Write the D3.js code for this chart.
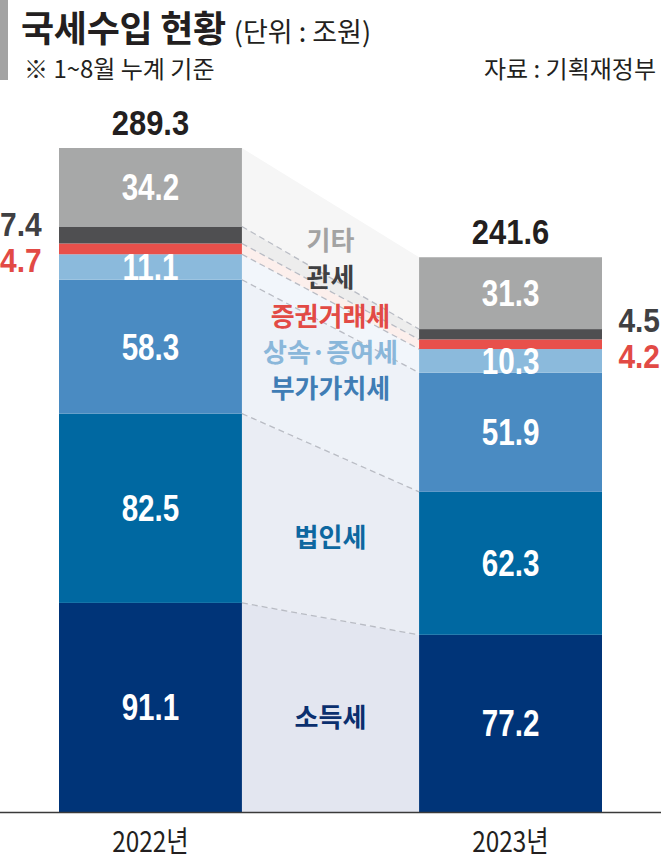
<!DOCTYPE html>
<html>
<head>
<meta charset="utf-8">
<script src="https://cdn.jsdelivr.net/npm/d3@7"></script>
<style>
	body { margin: 0; background: #fff; }
	svg { display: block; }
	.kr { font-family: 'Noto Sans CJK KR', sans-serif; }
	.num { font-family: 'Liberation Sans', Arial, sans-serif; font-weight: bold; }
</style>
</head>
<body>
<script>

const width = 661,
	height = 862,

	years = [ '2022년', '2023년' ],
	taxes = [ '소득세', '법인세', '부가가치세', '상속·증여세', '증권거래세', '관세', '기타' ], // van onder naar boven
	values2022 = [ 91.1, 82.5, 58.3, 11.1, 4.7, 7.4, 34.2 ],
	values2023 = [ 77.2, 62.3, 51.9, 10.3, 4.2, 4.5, 31.3 ],
	totals = [ 289.3, 241.6 ],

	barColors = [ '#003478', '#0068a1', '#4a8bc2', '#8bbadc', '#e8504b', '#4f4f51', '#a7a8a8' ],
	bandColors = [ '#e3e6f0', '#eaedf4', '#eef2f8', '#f2f6fb', '#fcefec', '#ededed', '#f6f6f6' ],
	labelColors = [ '#0a2f6e', '#0d67a0', '#3f7db5', '#8ab7da', '#e24a45', '#404042', '#a3a3a3' ]

const svg = d3.select( 'body' )
	.append( 'svg' )
	.attr( 'width', width )
	.attr( 'height', height )

const x = d3.scaleBand()
		.domain( years )
		.range( [ 59, 602 ] )
		.paddingInner( 0.492 ),

	y = d3.scaleLinear()
		.domain( [ 0, totals[ 0 ] ] )
		.range( [ 812, 148 ] )

// stapel de data
const series = [ values2022, values2023 ].map( vals => {
	let sum = 0
	return vals.map( ( v, i ) => {
		const d = { i, key: taxes[ i ], value: v, y0: sum, y1: sum + v }
		sum += v
		return d
	})
})

// tekst smaller maken (condensed)
function narrow( sel, sx ) {
	sel.attr( 'transform', function() {
		const t = d3.select( this )
		return `translate( ${ t.attr( 'data-x' ) }, ${ t.attr( 'data-y' ) } ) scale( ${ sx }, 1 )`
	})
}

// titel blok
svg.append( 'rect' )
	.attr( 'x', 0 )
	.attr( 'y', 0 )
	.attr( 'width', 8 )
	.attr( 'height', 80 )
	.attr( 'fill', '#a3a3a3' )

const title = svg.append( 'text' )
	.attr( 'class', 'kr' )
	.attr( 'x', 21 )
	.attr( 'y', 42 )
	.attr( 'fill', '#231f20' )

title.append( 'tspan' )
	.attr( 'font-size', 36 )
	.attr( 'font-weight', 'bold' )
	.attr( 'letter-spacing', -0.3 )
	.text( '국세수입 현황' )

title.append( 'tspan' )
	.attr( 'font-size', 27 )
	.attr( 'dx', 8 )
	.text( '(단위 : 조원)' )

svg.append( 'text' )
	.attr( 'class', 'kr' )
	.attr( 'x', 24 )
	.attr( 'y', 78 )
	.attr( 'font-size', 24 )
	.attr( 'fill', '#231f20' )
	.text( '※ 1~8월 누계 기준' )

svg.append( 'text' )
	.attr( 'class', 'kr' )
	.attr( 'x', 656 )
	.attr( 'y', 78 )
	.attr( 'font-size', 24 )
	.attr( 'text-anchor', 'end' )
	.attr( 'fill', '#231f20' )
	.text( '자료 : 기획재정부' )

// verbindings vlakken tussen de twee staven
const xl = x( years[ 0 ] ) + x.bandwidth(),
	xr = x( years[ 1 ] )

svg.append( 'g' )
	.selectAll( 'path' )
	.data( taxes )
	.enter()
	.append( 'path' )
	.attr( 'fill', ( d, i ) => bandColors[ i ] )
	.attr( 'd', ( d, i ) => {
		const a = series[ 0 ][ i ], b = series[ 1 ][ i ]
		return `M${ xl },${ y( a.y0 ) }L${ xr },${ y( b.y0 ) }L${ xr },${ y( b.y1 ) }L${ xl },${ y( a.y1 ) }Z`
	})

svg.append( 'g' )
	.selectAll( 'line' )
	.data( taxes.slice( 1 ) )
	.enter()
	.append( 'line' )
	.attr( 'x1', xl )
	.attr( 'x2', xr )
	.attr( 'y1', ( d, i ) => y( series[ 0 ][ i + 1 ].y0 ) )
	.attr( 'y2', ( d, i ) => y( series[ 1 ][ i + 1 ].y0 ) )
	.attr( 'stroke', '#b9bcc4' )
	.attr( 'stroke-width', 1.3 )
	.attr( 'stroke-dasharray', '6,4' )

// staven
const bars = svg.selectAll( '.bar' )
	.data( series )
	.enter()
	.append( 'g' )
	.attr( 'class', 'bar' )
	.attr( 'transform', ( d, i ) => `translate( ${ x( years[ i ] ) }, 0 )` )

bars.selectAll( 'rect' )
	.data( d => d )
	.enter()
	.append( 'rect' )
	.attr( 'x', 0 )
	.attr( 'width', x.bandwidth() )
	.attr( 'y', d => y( d.y1 ) )
	.attr( 'height', d => y( d.y0 ) - y( d.y1 ) )
	.attr( 'fill', d => barColors[ d.i ] )

// waardes in de staven (niet voor de dunne stukken)
bars.selectAll( '.val' )
	.data( d => d.filter( e => e.key !== '관세' && e.key !== '증권거래세' ) )
	.enter()
	.append( 'text' )
	.attr( 'class', 'num val' )
	.attr( 'data-x', x.bandwidth() / 2 )
	.attr( 'data-y', d => ( y( d.y0 ) + y( d.y1 ) ) / 2 + 13 )
	.attr( 'font-size', 37 )
	.attr( 'text-anchor', 'middle' )
	.attr( 'fill', '#fff' )
	.text( d => d.value.toFixed( 1 ) )
	.call( narrow, 0.8 )

// totalen
svg.selectAll( '.total' )
	.data( totals )
	.enter()
	.append( 'text' )
	.attr( 'class', 'num total' )
	.attr( 'data-x', ( d, i ) => x( years[ i ] ) + x.bandwidth() / 2 )
	.attr( 'data-y', d => y( d ) - 13 )
	.attr( 'font-size', 36 )
	.attr( 'text-anchor', 'middle' )
	.attr( 'fill', '#231f20' )
	.text( d => d.toFixed( 1 ) )
	.call( narrow, 0.86 )

// kleine waardes buiten de staven (관세, 증권거래세)
const outside = [
	{ v: series[ 0 ][ 5 ], x: 0, anchor: 'start', dy: 10, color: labelColors[ 5 ] },
	{ v: series[ 0 ][ 4 ], x: 0, anchor: 'start', dy: 29, color: labelColors[ 4 ] },
	{ v: series[ 1 ][ 5 ], x: 660, anchor: 'end', dy: 3, color: labelColors[ 5 ] },
	{ v: series[ 1 ][ 4 ], x: 660, anchor: 'end', dy: 29, color: labelColors[ 4 ] }
]

svg.selectAll( '.outside' )
	.data( outside )
	.enter()
	.append( 'text' )
	.attr( 'class', 'num outside' )
	.attr( 'data-x', d => d.x )
	.attr( 'data-y', d => y( d.v.y1 ) + d.dy )
	.attr( 'font-size', 34 )
	.attr( 'text-anchor', d => d.anchor )
	.attr( 'fill', d => d.color )
	.text( d => d.v.value.toFixed( 1 ) )
	.call( narrow, 0.88 )

// namen in het midden
const nameY = [ 727, 547, 398, 362, 326, 287, 250 ]

svg.selectAll( '.name' )
	.data( taxes )
	.enter()
	.append( 'text' )
	.attr( 'class', 'kr name' )
	.attr( 'x', ( xl + xr ) / 2 )
	.attr( 'y', ( d, i ) => nameY[ i ] )
	.attr( 'font-size', 26 )
	.attr( 'font-weight', 'bold' )
	.attr( 'text-anchor', 'middle' )
	.attr( 'fill', ( d, i ) => labelColors[ i ] )
	.text( d => d )

// basislijn en jaren
svg.append( 'line' )
	.attr( 'x1', 0 )
	.attr( 'x2', width )
	.attr( 'y1', 812.5 )
	.attr( 'y2', 812.5 )
	.attr( 'stroke', '#3a3a3a' )
	.attr( 'stroke-width', 1.5 )

svg.selectAll( '.year' )
	.data( years )
	.enter()
	.append( 'text' )
	.attr( 'class', 'kr year' )
	.attr( 'data-x', d => x( d ) + x.bandwidth() / 2 )
	.attr( 'data-y', 852 )
	.attr( 'font-size', 29 )
	.attr( 'text-anchor', 'middle' )
	.attr( 'fill', '#231f20' )
	.text( d => d )
	.call( narrow, 0.84 )

</script>
</body>
</html>
